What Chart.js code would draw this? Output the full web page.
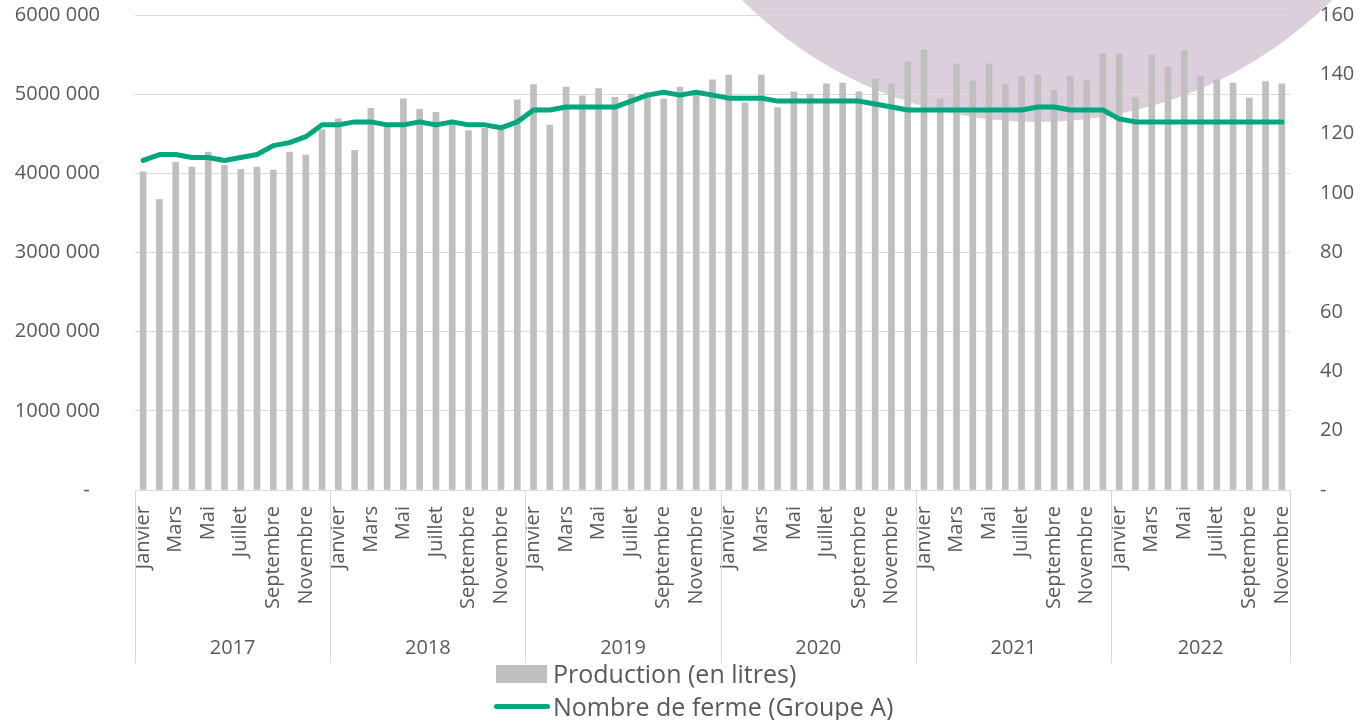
<!DOCTYPE html>
<html>
<head>
<meta charset="utf-8">
<script src="https://cdn.jsdelivr.net/npm/chart.js@4.4.1/dist/chart.umd.min.js"></script>
<style>
    body { margin: 0; background: #fff; font-family: 'Open Sans', sans-serif; }
    #wrap { position: relative; width: 1364px; height: 665px; }
    #legend { position: absolute; left: 494px; top: 657px; color: #595959; font-size: 25px; line-height: 33px; }
    .item { display: flex; align-items: center; white-space: nowrap; }
    .swatch { display: inline-block; width: 52px; margin-right: 6px; }
</style>
</head>
<body>
<div id="wrap"><canvas id="milkChart"></canvas></div>
<div id="legend">
    <div class="item"><span class="swatch" style="height:18px;background:#bfbfbf;margin-left:2px;width:51px"></span>Production (en litres)</div>
    <div class="item"><span class="swatch" style="height:5px;border-radius:3px;background:#00a67e;width:56px;margin-right:3px"></span>Nombre de ferme (Groupe A)</div>
</div>
<script>
const monthNames = ['Janvier', 'Février', 'Mars', 'Avril', 'Mai', 'Juin', 'Juillet', 'Août', 'Septembre', 'Octobre', 'Novembre', 'Décembre']
const years = ['2017', '2018', '2019', '2020', '2021', '2022']
const monthsPerYear = [12, 12, 12, 12, 12, 11]

const production = [
    4020000, 3670000, 4140000, 4080000, 4270000, 4100000, 4050000, 4080000, 4040000, 4270000, 4230000, 4550000,
    4690000, 4290000, 4820000, 4590000, 4940000, 4810000, 4770000, 4620000, 4540000, 4570000, 4550000, 4930000,
    5120000, 4610000, 5090000, 4980000, 5070000, 4960000, 5000000, 5020000, 4940000, 5090000, 5030000, 5180000,
    5240000, 4890000, 5240000, 4830000, 5030000, 5000000, 5130000, 5140000, 5030000, 5190000, 5130000, 5410000,
    5560000, 4940000, 5380000, 5170000, 5380000, 5120000, 5220000, 5240000, 5050000, 5230000, 5170000, 5510000,
    5510000, 4960000, 5490000, 5350000, 5550000, 5230000, 5180000, 5140000, 4950000, 5160000, 5130000
]

const fermes = [
    111, 113, 113, 112, 112, 111, 112, 113, 116, 117, 119, 123,
    123, 124, 124, 123, 123, 124, 123, 124, 123, 123, 122, 124,
    128, 128, 129, 129, 129, 129, 131, 133, 134, 133, 134, 133,
    132, 132, 132, 131, 131, 131, 131, 131, 131, 130, 129, 128,
    128, 128, 128, 128, 128, 128, 128, 129, 129, 128, 128, 128,
    125, 124, 124, 124, 124, 124, 124, 124, 124, 124, 124
]

const leftTicks = { 0: '-\u00a0\u00a0', 1000000: '1000 000', 2000000: '2000 000', 3000000: '3000 000', 4000000: '4000 000', 5000000: '5000 000', 6000000: '6000 000' }

let labels = []
for (let y = 0; y < years.length; y++) {
    for (let m = 0; m < monthsPerYear[y]; m++) {
        labels.push(monthNames[m])
    }
}

const textColor = '#595959'
const gridColor = '#d9d9d9'

// decorative disc behind the plot + year row under the month labels
const decorPlugin = {
    id: 'decor',
    beforeDraw(chart) {
        const ctx = chart.ctx
        ctx.save()
        ctx.fillStyle = '#dccfdc'
        ctx.beginPath()
        ctx.arc(1037, -296, 418, 0, Math.PI * 2)
        ctx.fill()
        ctx.restore()
    },
    afterDraw(chart) {
        const ctx = chart.ctx
        const x = chart.scales.x
        const area = chart.chartArea
        const half = (x.getPixelForValue(1) - x.getPixelForValue(0)) / 2
        ctx.save()
        ctx.strokeStyle = gridColor
        ctx.lineWidth = 1
        ctx.fillStyle = textColor
        ctx.font = '20px "Open Sans"'
        ctx.textAlign = 'center'
        ctx.textBaseline = 'middle'
        let start = 0
        for (let y = 0; y < years.length; y++) {
            const end = start + monthsPerYear[y]
            const x0 = x.getPixelForValue(start) - half
            const x1 = x.getPixelForValue(end - 1) + half
            ctx.beginPath()
            ctx.moveTo(Math.round(x0) + 0.5, area.bottom)
            ctx.lineTo(Math.round(x0) + 0.5, 663)
            ctx.stroke()
            if (y === years.length - 1) {
                ctx.beginPath()
                ctx.moveTo(Math.round(x1) + 0.5, area.bottom)
                ctx.lineTo(Math.round(x1) + 0.5, 663)
                ctx.stroke()
            }
            ctx.fillText(years[y], (x0 + x1) / 2, 648)
            start = end
        }
        ctx.restore()
    }
}

const ctx = document.getElementById('milkChart').getContext('2d')
new Chart(ctx, {
    data: {
        labels: labels,
        datasets: [{
            type: 'line',
            label: 'Nombre de ferme (Groupe A)',
            data: fermes,
            yAxisID: 'y2',
            borderColor: '#00a67e',
            borderWidth: 5,
            pointRadius: 0,
            tension: 0,
            borderJoinStyle: 'round',
            borderCapStyle: 'round',
            order: 0
        }, {
            type: 'bar',
            label: 'Production (en litres)',
            data: production,
            yAxisID: 'y',
            backgroundColor: '#bfbfbf',
            barThickness: 6,
            order: 1
        }]
    },
    options: {
        responsive: true,
        maintainAspectRatio: false,
        animation: false,
        layout: { padding: { top: 15, left: 0, right: 0, bottom: 0 } },
        plugins: {
            legend: { display: false },
            tooltip: { enabled: false }
        },
        scales: {
            x: {
                grid: { display: false, drawTicks: false },
                border: { display: true, color: gridColor },
                ticks: {
                    autoSkip: false,
                    maxRotation: 90,
                    minRotation: 90,
                    padding: 16,
                    color: textColor,
                    font: { family: 'Open Sans', size: 20 },
                    callback: function (value, index) {
                        return index % 2 === 0 ? this.getLabelForValue(value) : ''
                    }
                },
                afterFit: function (scale) { scale.height = 175 }
            },
            y: {
                position: 'left',
                min: 0,
                max: 6000000,
                grid: { color: gridColor, drawTicks: true, tickLength: 33, tickColor: 'rgba(0,0,0,0)' },
                border: { display: false },
                ticks: {
                    stepSize: 1000000,
                    padding: 2,
                    color: textColor,
                    font: { family: 'Open Sans', size: 20 },
                    callback: value => leftTicks[value]
                },
                afterFit: function (scale) { scale.width = 135 }
            },
            y2: {
                position: 'right',
                min: 0,
                max: 160,
                grid: { display: false, drawTicks: true, tickLength: 28 },
                border: { display: false },
                ticks: {
                    stepSize: 20,
                    padding: 2,
                    color: textColor,
                    font: { family: 'Open Sans', size: 20 },
                    callback: value => value === 0 ? '-' : value
                },
                afterFit: function (scale) { scale.width = 74 }
            }
        }
    },
    plugins: [decorPlugin]
})
</script>
</body>
</html>
